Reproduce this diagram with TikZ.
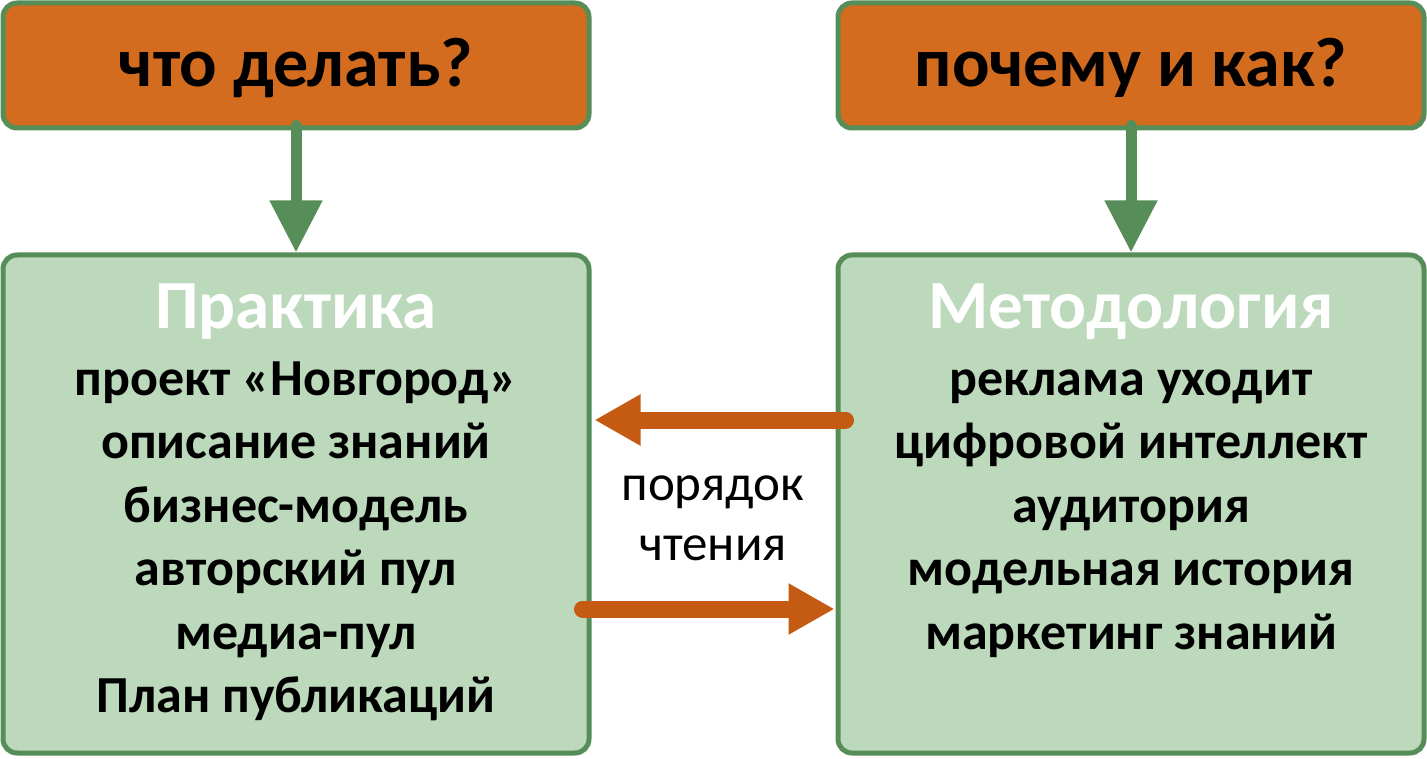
\documentclass[tikz,border=0pt]{standalone}
\usepackage{fontspec}
\setmainfont{Carlito}
\usetikzlibrary{arrows.meta,positioning,calc}

\definecolor{askorange}{RGB}{211,108,30}
\definecolor{leafgreen}{RGB}{188,217,188}
\definecolor{rimgreen}{RGB}{86,141,88}
\definecolor{flowarrow}{RGB}{197,90,18}

\begin{document}
\begin{tikzpicture}[x=1pt, y=-1pt,
        askbox/.style={draw=rimgreen, line width=5pt, rounded corners=14pt, fill=askorange,
            minimum width=586pt, minimum height=125pt, inner sep=0pt,
            text height=44pt, text depth=2pt,
            font=\fontsize{70}{80}\selectfont\bfseries},
        areabox/.style={draw=rimgreen, line width=5pt, rounded corners=14pt, fill=leafgreen,
            minimum width=586pt, minimum height=498pt},
        heading/.style={anchor=base, text=white, font=\fontsize{69}{80}\selectfont\bfseries},
        item/.style={anchor=base, font=\fontsize{52}{62}\selectfont\bfseries},
        downarrow/.style={draw=rimgreen, line width=11pt, line cap=round, shorten <=-5pt,
            -{Triangle[width=50pt, length=52pt]}},
        readarrow/.style={draw=flowarrow, line width=17pt, line cap=round, -{Triangle[width=48pt, length=46pt]}}]
        \useasboundingbox (0, 0) rectangle (1427, 759);
        % questions on top
        \node[askbox] (what) at (296, 65.5) {что делать?};
        \node[askbox] (why) at (1131, 65.5) {почему и как?};
        % the two areas
        \node[areabox] (practice) at (296, 504) {};
        \node[areabox] (method) at (1131, 504) {};
        \draw[downarrow] (what.south) -- (practice.north);
        \draw[downarrow] (why.south) -- (method.north);
        \node[heading] (practicetitle) at (296, 328) {Практика};
        \node[heading] (methodtitle) at (1131, 328) {Методология};
        \foreach \txt [count=\i] in {проект «Новгород», описание знаний, бизнес-модель,
                авторский пул, медиа-пул, План публикаций}
            \node[item] (practice\i) at (296, 331.5 + 63.5*\i) {\txt};
        \foreach \txt [count=\i] in {реклама уходит, цифровой интеллект, аудитория,
                модельная история, маркетинг знаний}
            \node[item] (method\i) at (1131, 331.5 + 63.5*\i) {\txt};
        % reading order
        \coordinate (backstart) at ($(method.west) + (10, -84)$);
        \coordinate (backend) at ($(practice.east) + (3, -84)$);
        \coordinate (forthstart) at ($(practice.east) + (-9, 105)$);
        \coordinate (forthend) at ($(method.west) + (-1, 105)$);
        \draw[readarrow] (backstart) -- (backend);
        \draw[readarrow] (forthstart) -- (forthend);
        \node[anchor=base, font=\fontsize{51}{60}\selectfont] (order1) at (713, 500) {порядок};
        \node[anchor=base, font=\fontsize{51}{60}\selectfont] (order2) at (713, 560) {чтения};
    \end{tikzpicture}
\end{document}
